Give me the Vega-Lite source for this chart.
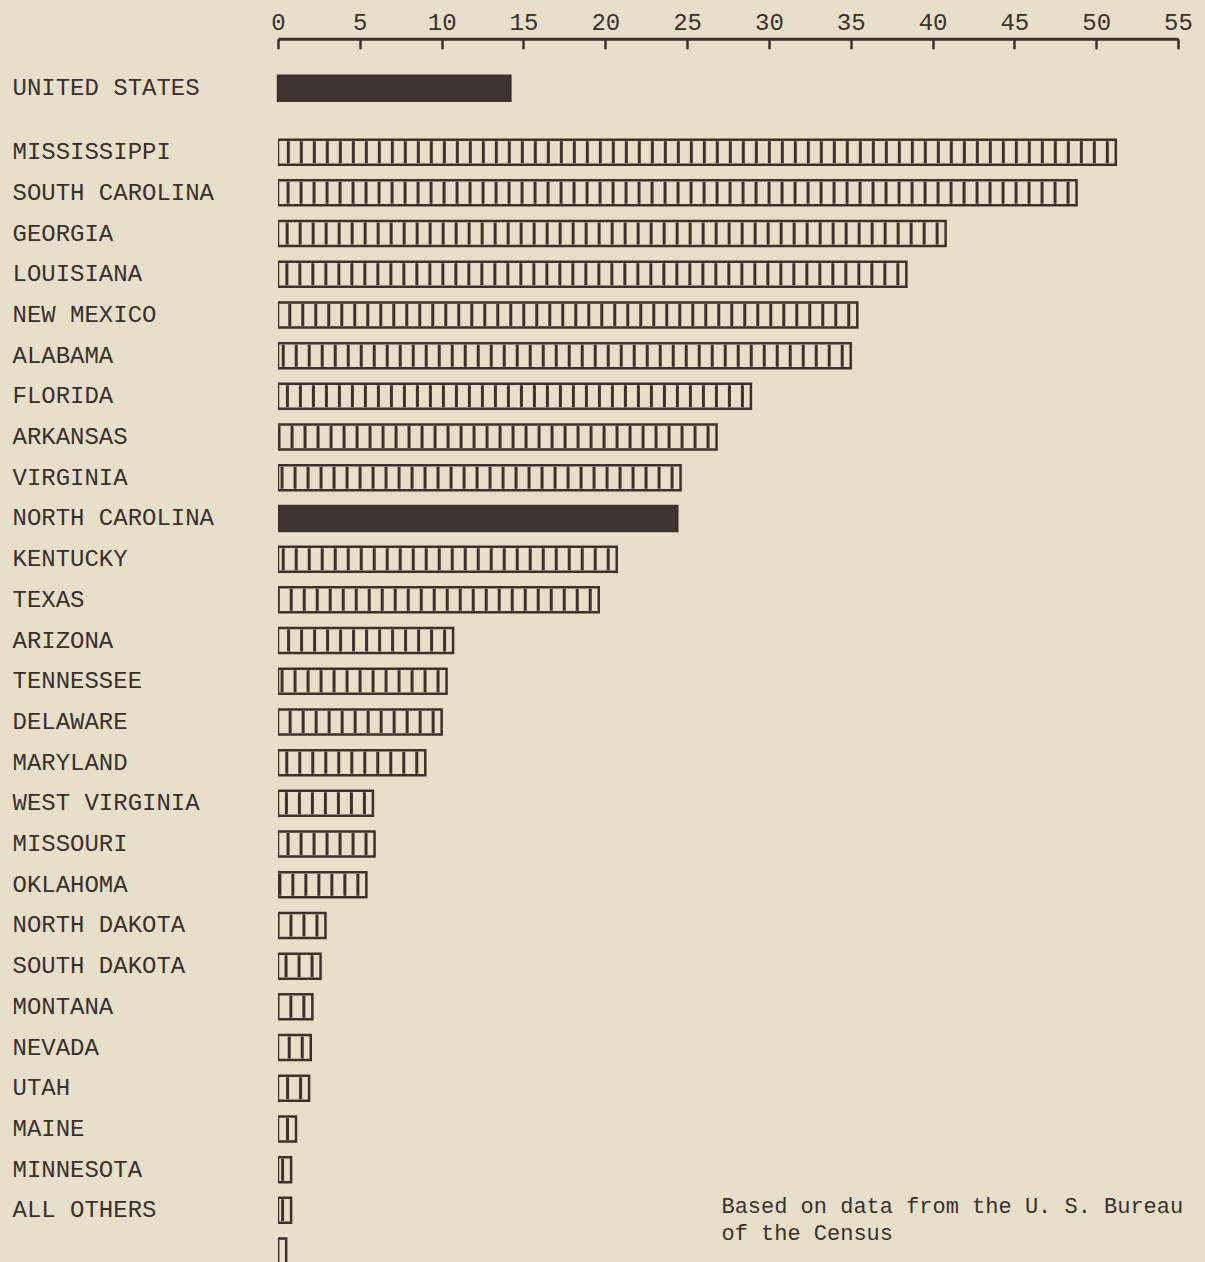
{
  "$schema": "https://vega.github.io/schema/vega-lite/v6.json",
  "background": "#e8dfcb",
  "padding": {"left": 12, "top": 10.8, "right": 13, "bottom": 0},
  "spacing": 10,
  "config": {
    "view": {"stroke": null},
    "font": "Liberation Mono",
    "axis": {"labelFont": "Liberation Mono", "labelColor": "#3a302b", "labelFontSize": 24, "title": null, "grid": false}
  },
  "datasets": {
    "rates": [
      {"state": "UNITED STATES", "pct": 14.2, "group": "national"},
      {"state": "MISSISSIPPI", "pct": 51.2, "group": "state"},
      {"state": "SOUTH CAROLINA", "pct": 48.8, "group": "state"},
      {"state": "GEORGIA", "pct": 40.8, "group": "state"},
      {"state": "LOUISIANA", "pct": 38.4, "group": "state"},
      {"state": "NEW MEXICO", "pct": 35.4, "group": "state"},
      {"state": "ALABAMA", "pct": 35.0, "group": "state"},
      {"state": "FLORIDA", "pct": 28.9, "group": "state"},
      {"state": "ARKANSAS", "pct": 26.8, "group": "state"},
      {"state": "VIRGINIA", "pct": 24.6, "group": "state"},
      {"state": "NORTH CAROLINA", "pct": 24.4, "group": "focus"},
      {"state": "KENTUCKY", "pct": 20.7, "group": "state"},
      {"state": "TEXAS", "pct": 19.6, "group": "state"},
      {"state": "ARIZONA", "pct": 10.7, "group": "state"},
      {"state": "TENNESSEE", "pct": 10.3, "group": "state"},
      {"state": "DELAWARE", "pct": 10.0, "group": "state"},
      {"state": "MARYLAND", "pct": 9.0, "group": "state"},
      {"state": "WEST VIRGINIA", "pct": 5.8, "group": "state"},
      {"state": "MISSOURI", "pct": 5.9, "group": "state"},
      {"state": "OKLAHOMA", "pct": 5.4, "group": "state"},
      {"state": "NORTH DAKOTA", "pct": 2.9, "group": "state"},
      {"state": "SOUTH DAKOTA", "pct": 2.6, "group": "state"},
      {"state": "MONTANA", "pct": 2.1, "group": "state"},
      {"state": "NEVADA", "pct": 2.0, "group": "state"},
      {"state": "UTAH", "pct": 1.9, "group": "state"},
      {"state": "MAINE", "pct": 1.1, "group": "state"},
      {"state": "MINNESOTA", "pct": 0.8, "group": "state"},
      {"state": "ALL OTHERS", "pct": 0.8, "group": "state"},
      {"state": " ", "pct": 0.5, "group": "state"}
    ]
  },
  "vconcat": [
    {
      "width": 900,
      "height": 82.15,
      "data": {"name": "rates"},
      "transform": [{"filter": "datum.group === 'national'"}],
      "mark": {"type": "bar", "stroke": "#3b322d", "strokeWidth": 2.5, "height": 25},
      "encoding": {
        "x": {
          "field": "pct", "type": "quantitative",
          "scale": {"domain": [0, 55], "nice": false, "zero": true},
          "axis": {
            "orient": "top", "values": [0, 5, 10, 15, 20, 25, 30, 35, 40, 45, 50, 55],
            "format": "d", "labelFlush": false, "labelOverlap": false,
            "tickSize": -10, "tickWidth": 2.5, "tickColor": "#3b322d",
            "domainWidth": 3, "domainColor": "#3b322d",
            "labelPadding": 19, "labelBaseline": "alphabetic"
          }
        },
        "y": {
          "field": "state", "type": "nominal",
          "scale": {"paddingInner": 0, "paddingOuter": 0.509, "align": 0.703},
          "axis": {"orient": "left", "domain": false, "ticks": false, "tickSize": 0, "labelAlign": "left", "labelPadding": 266, "labelLimit": 400, "labelBaseline": "middle"}
        },
        "fill": {
          "field": "group", "type": "nominal",
          "scale": {"domain": ["national", "focus", "state"], "range": ["#3d3431", "#3d3431", "#e8dfcb"]},
          "legend": null
        }
      }
    },
    {
      "width": 900,
      "height": 1130.85,
      "data": {"name": "rates"},
      "transform": [{"filter": "datum.group !== 'national'"}],
      "encoding": {
        "y": {
          "field": "state", "type": "nominal",
          "scale": {
            "domain": ["MISSISSIPPI", "SOUTH CAROLINA", "GEORGIA", "LOUISIANA", "NEW MEXICO", "ALABAMA", "FLORIDA", "ARKANSAS", "VIRGINIA", "NORTH CAROLINA", "KENTUCKY", "TEXAS", "ARIZONA", "TENNESSEE", "DELAWARE", "MARYLAND", "WEST VIRGINIA", "MISSOURI", "OKLAHOMA", "NORTH DAKOTA", "SOUTH DAKOTA", "MONTANA", "NEVADA", "UTAH", "MAINE", "MINNESOTA", "ALL OTHERS", " "],
            "range": [0, 1139.6], "paddingInner": 0, "paddingOuter": 0
          },
          "axis": {"orient": "left", "domain": false, "ticks": false, "tickSize": 0, "labelAlign": "left", "labelPadding": 266, "labelLimit": 400, "labelBaseline": "middle"}
        }
      },
      "layer": [
        {
          "mark": {"type": "bar", "stroke": "#3b322d", "strokeWidth": 2.5, "height": 25, "clip": true},
          "encoding": {
            "x": {"field": "pct", "type": "quantitative", "scale": {"domain": [0, 55], "nice": false, "zero": true}, "axis": null},
            "fill": {
              "field": "group", "type": "nominal",
              "scale": {"domain": ["national", "focus", "state"], "range": ["#3d3431", "#3d3431", "#e8dfcb"]},
              "legend": null
            }
          }
        },
        {
          "transform": [{"filter": "datum.group === 'state'"}],
          "mark": {"type": "rule", "strokeWidth": 22, "strokeDash": [3, 10], "strokeDashOffset": 6, "strokeCap": "butt", "color": "#3b322d", "clip": true},
          "encoding": {
            "x": {"field": "pct", "type": "quantitative"},
            "x2": {"datum": 0}
          }
        },
        {
          "data": {"values": [{"note": "Based on data from the U. S. Bureau\nof the Census"}]},
          "mark": {"type": "text", "align": "left", "baseline": "middle", "lineBreak": "\n", "fontSize": 22, "lineHeight": 27, "color": "#3a302b", "font": "Liberation Mono", "dy": -4},
          "encoding": {
            "x": {"datum": 27.1},
            "y": {"datum": "ALL OTHERS"},
            "text": {"field": "note"}
          }
        }
      ]
    }
  ]
}
